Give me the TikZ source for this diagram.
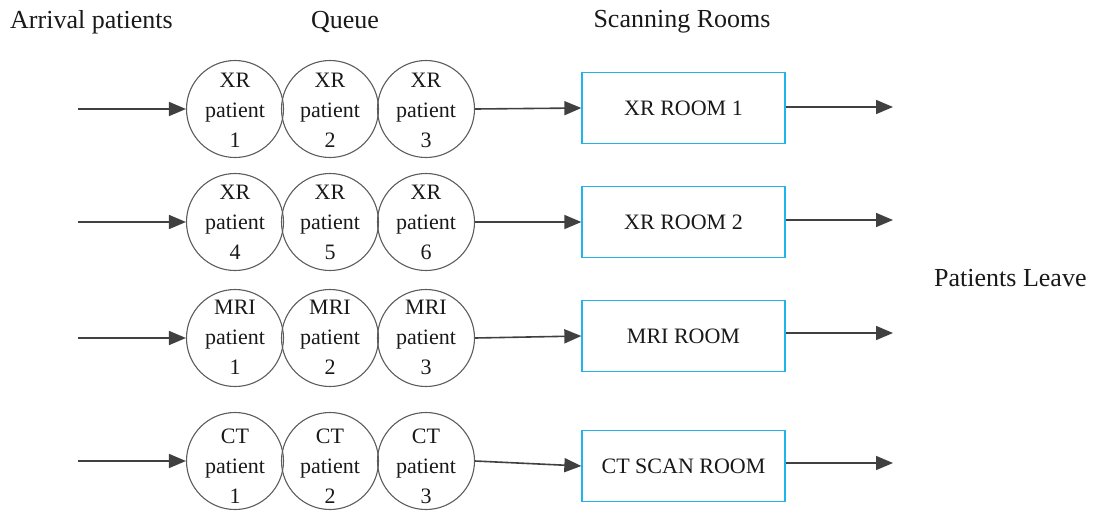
\documentclass[tikz,border=0pt]{standalone}
\usepackage{fontspec}
\setmainfont{Liberation Serif}
\newfontfamily\timesf{Liberation Serif}
\usetikzlibrary{arrows.meta}
\definecolor{linegray}{HTML}{404040}
\definecolor{boxcyan}{HTML}{1FB4EC}
\tikzset{
  qcirc/.style={circle, draw=linegray!85, line width=1.1pt, minimum width=95pt, minimum height=97pt, inner sep=0pt},
  qtext/.style={align=center, font=\timesf\fontsize{22pt}{30pt}\selectfont, inner sep=0pt, text=black!90},
  room/.style={draw=boxcyan, line width=1.3pt, minimum width=203pt, minimum height=71pt, inner sep=0pt, font=\timesf\fontsize{22pt}{25pt}\selectfont, text=black!90},
  head/.style={font=\timesf\fontsize{26pt}{28pt}\selectfont, inner sep=0pt, text=black!90},
  flow/.style={draw=linegray, line width=1.6pt, -{Triangle[length=17pt,width=14pt]}}
}
\begin{document}
\begin{tikzpicture}[x=1pt,y=-1pt]
\useasboundingbox (0,0) rectangle (1096,512);
% headers
\node[head, anchor=west] (harr) at (10,22) {Arrival patients};
\node[head] (hq) at (345,22) {Queue};
\node[head] (hs) at (682,22) {Scanning Rooms};
\node[head, anchor=west] (hl) at (934,278) {Patients Leave};
% rows
\foreach \r/\y/\ty/\by/\oy/\a/\b/\c/\kind/\room in {
  1/109/110/108/107/1/2/3/XR/XR ROOM 1,
  2/222/222/222/220/4/5/6/XR/XR ROOM 2,
  3/338/337/336/333/1/2/3/MRI/MRI ROOM,
  4/461/466/466/463/1/2/3/CT/CT SCAN ROOM}{
  \node[qcirc] (c\r a) at (235,\y) {};
  \node[qcirc] (c\r b) at (330,\y) {};
  \node[qcirc] (c\r c) at (426,\y) {};
  \node[qtext] (t\r a) at (235,\ty) {\kind\\patient\\\a};
  \node[qtext] (t\r b) at (330,\ty) {\kind\\patient\\\b};
  \node[qtext] (t\r c) at (426,\ty) {\kind\\patient\\\c};
  \node[room] (room\r) at (683.5,\by) {\room};
  \coordinate (in\r) at (78,\y);
  \coordinate (out\r) at (893,\oy);
  \draw[flow] (in\r) -- (c\r a.west);
  \draw[flow] (c\r c.east) -- (room\r.west);
  \draw[flow] (room\r.east |- out\r) -- (out\r);
}
\end{tikzpicture}
\end{document}
